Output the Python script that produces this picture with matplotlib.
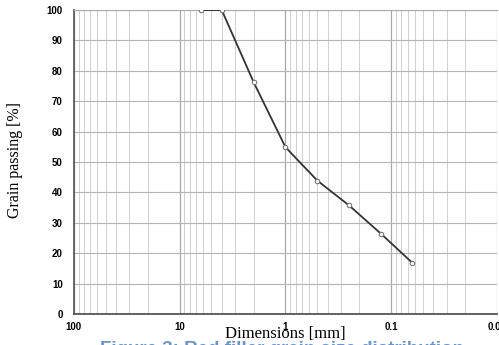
import matplotlib
matplotlib.use("Agg")
import matplotlib.pyplot as plt
from matplotlib.ticker import LogLocator, FixedLocator, NullFormatter

sizes_mm = [6.3, 4, 2, 1, 0.5, 0.25, 0.125, 0.063]
passing = [100, 100, 76.3, 54.9, 43.9, 35.7, 26.4, 16.8]
x_ticks = [100, 10, 1, 0.1, 0.01]
x_tick_labels = ["100", "10", "1", "0.1", "0.01"]
y_ticks = [0, 10, 20, 30, 40, 50, 60, 70, 80, 90, 100]

fig = plt.figure(figsize=(4.99, 3.45), dpi=100)
ax = fig.add_axes([0.148, 0.0899, 0.848, 0.881])
ax.set_xscale("log")
ax.set_xlim(100, 0.01)
ax.set_ylim(0, 100)

ax.xaxis.set_major_locator(FixedLocator(x_ticks))
ax.set_xticks(x_ticks)
ax.set_xticklabels(x_tick_labels)
ax.xaxis.set_minor_locator(LogLocator(base=10, subs=range(2, 10), numticks=20))
ax.xaxis.set_minor_formatter(NullFormatter())
ax.set_yticks(y_ticks)

ax.grid(True, which="major", axis="x", color="#a8a8a8", linewidth=0.9)
ax.grid(True, which="minor", axis="x", color="#d0d0d0", linewidth=0.7)
ax.grid(True, which="major", axis="y", color="#b4b4b4", linewidth=0.8)
ax.set_axisbelow(True)

ax.plot(sizes_mm, passing, color="#333333", linewidth=1.3, marker="o",
        markersize=3.2, markerfacecolor="white", markeredgecolor="#777777",
        markeredgewidth=0.8, zorder=3)

for lbl in ax.get_xticklabels() + ax.get_yticklabels():
    lbl.set_fontfamily("Liberation Sans")
    lbl.set_fontweight("bold")
    lbl.set_fontsize(7)
ax.tick_params(axis="both", which="both", length=0)
ax.tick_params(axis="x", pad=6)
ax.tick_params(axis="y", pad=8)

ax.spines["left"].set_color("#555555")
ax.spines["bottom"].set_color("#555555")
ax.spines["bottom"].set_linewidth(1.3)
ax.spines["left"].set_linewidth(1.2)
ax.spines["top"].set_color("#aaaaaa")
ax.spines["right"].set_visible(False)

fig.text(0.03, 0.535, "Grain passing [%]", rotation=90, ha="center", va="center",
         fontfamily="Liberation Serif", fontsize=11.5)
fig.text(0.571, 0.032, "Dimensions [mm]", ha="center", va="center",
         fontfamily="Liberation Serif", fontsize=12)
fig.text(0.2, 0.013, "Figure 3: Red filler grain size distribution", ha="left",
         va="top", fontfamily="Liberation Sans", fontsize=13.5, fontweight="bold",
         color="#4f81c7", alpha=0.85)

fig.savefig("out.png", dpi=100)
